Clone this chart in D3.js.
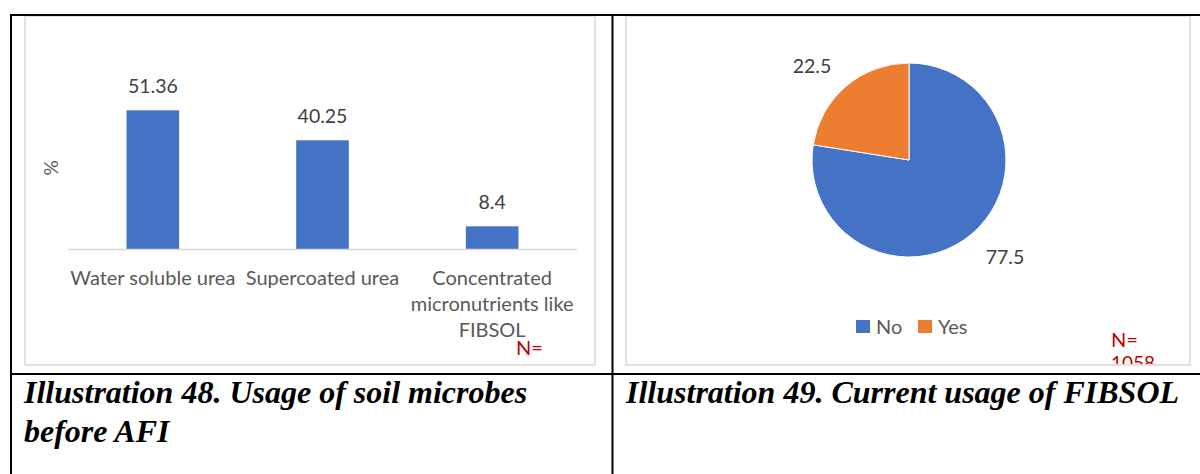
<!DOCTYPE html>
<html>
<head>
<meta charset="utf-8">
<script src="https://cdn.jsdelivr.net/npm/d3@7"></script>
<style>
  body { margin: 0; background: #fff; }
  svg { display: block; }
</style>
</head>
<body>
<div id="canvas"></div>
<script>
// data
const barCategories = ["Water soluble urea", "Supercoated urea", "Concentrated micronutrients like FIBSOL"];
const barLabelLines = [["Water soluble urea"], ["Supercoated urea"], ["Concentrated", "micronutrients like", "FIBSOL"]];
const barValues = [51.36, 40.25, 8.4];
const pieCategories = ["No", "Yes"];
const pieValues = [77.5, 22.5];
const captions = [
    ["Illustration 48. Usage of soil microbes", "before AFI"],
    ["Illustration 49. Current usage of FIBSOL"]
];

const W = 1200, H = 474;
const labelFont = "Lato, 'Open Sans', sans-serif";

const svg = d3.select("#canvas").append("svg")
    .attr("width", W)
    .attr("height", H);

// chart boxes
const boxes = [
    { x: 25, y: 16, w: 570, h: 349 },
    { x: 626, y: 16, w: 564, h: 349 }
];
boxes.forEach(b => {
    svg.append("rect")
        .attr("x", b.x).attr("y", b.y)
        .attr("width", b.w).attr("height", b.h)
        .attr("fill", "#fff")
        .attr("stroke", "#d9d9d9")
        .attr("stroke-width", 1.5);
});

// ---- bar chart ----
const bar = { left: 68, right: 577, top: 87, bottom: 249 };

const x = d3.scaleBand()
    .domain(barCategories)
    .range([bar.left, bar.right])
    .paddingInner(0.69)
    .paddingOuter(0.345);

const y = d3.scaleLinear()
    .domain([0, 60])
    .range([bar.bottom, bar.top]);

const barG = svg.append("g");

barG.selectAll("rect.bar")
    .data(barValues)
    .enter()
    .append("rect")
    .attr("class", "bar")
    .attr("x", (d, i) => x(barCategories[i]))
    .attr("y", d => y(d))
    .attr("width", x.bandwidth())
    .attr("height", d => y(0) - y(d))
    .attr("fill", "#4472c4");

barG.append("line")
    .attr("x1", bar.left).attr("x2", bar.right)
    .attr("y1", y(0) + 0.5).attr("y2", y(0) + 0.5)
    .attr("stroke", "#d9d9d9")
    .attr("stroke-width", 1.5);

barG.selectAll("text.val")
    .data(barValues)
    .enter()
    .append("text")
    .attr("class", "val")
    .attr("x", (d, i) => x(barCategories[i]) + x.bandwidth() / 2)
    .attr("y", d => y(d) - 17)
    .attr("text-anchor", "middle")
    .attr("fill", "#404040")
    .style("font-family", labelFont)
    .style("font-size", "19.5px")
    .text(d => d);

barCategories.forEach((c, i) => {
    const t = barG.append("text")
        .attr("x", x(c) + x.bandwidth() / 2)
        .attr("y", 285)
        .attr("text-anchor", "middle")
        .attr("fill", "#595959")
        .style("font-family", labelFont)
        .style("font-size", "20px");
    barLabelLines[i].forEach((line, j) => {
        t.append("tspan")
            .attr("x", x(c) + x.bandwidth() / 2)
            .attr("dy", j === 0 ? 0 : 26)
            .text(line);
    });
});

barG.append("text")
    .attr("transform", "translate(58,168) rotate(-90)")
    .attr("text-anchor", "middle")
    .attr("fill", "#595959")
    .style("font-family", labelFont)
    .style("font-size", "19px")
    .text("%");

barG.append("text")
    .attr("x", 516).attr("y", 355)
    .attr("fill", "#c00000")
    .style("font-family", labelFont)
    .style("font-size", "20px")
    .text("N=");

// ---- pie chart ----
const pieColor = d3.scaleOrdinal()
    .domain(pieCategories)
    .range(["#4472c4", "#ed7d31"]);

const cx = 909, cy = 160, r = 97;
const pie = d3.pie().sort(null).value(d => d)(pieValues);
const arc = d3.arc().innerRadius(0).outerRadius(r);

const pieG = svg.append("g").attr("transform", `translate(${cx},${cy})`);

pieG.selectAll("path")
    .data(pie)
    .enter()
    .append("path")
    .attr("d", arc)
    .attr("fill", (d, i) => pieColor(pieCategories[i]))
    .attr("stroke", "#fff")
    .attr("stroke-width", 1);

// outside labels
const labelPos = [[96, 104], [-97, -87]];
pieG.selectAll("text.pl")
    .data(pie)
    .enter()
    .append("text")
    .attr("class", "pl")
    .attr("x", (d, i) => labelPos[i][0])
    .attr("y", (d, i) => labelPos[i][1])
    .attr("text-anchor", "middle")
    .attr("fill", "#404040")
    .style("font-family", labelFont)
    .style("font-size", "19.5px")
    .text(d => d.data);

// legend
const legend = svg.append("g").attr("transform", "translate(856,320)");
const legendX = [0, 62];
pieCategories.forEach((c, i) => {
    const g = legend.append("g").attr("transform", `translate(${legendX[i]},0)`);
    g.append("rect")
        .attr("width", 14).attr("height", 13)
        .attr("fill", pieColor(c));
    g.append("text")
        .attr("x", 20).attr("y", 14)
        .attr("fill", "#595959")
        .style("font-family", labelFont)
        .style("font-size", "20px")
        .text(c);
});

// N= 1058 clipped by box bottom
svg.append("clipPath").attr("id", "clipN")
    .append("rect").attr("x", 626).attr("y", 16).attr("width", 564).attr("height", 348);
const nG = svg.append("g").attr("clip-path", "url(#clipN)");
nG.append("text")
    .attr("x", 1111).attr("y", 347)
    .attr("fill", "#c00000")
    .style("font-family", labelFont)
    .style("font-size", "20px")
    .text("N=");
nG.append("text")
    .attr("x", 1111).attr("y", 370)
    .attr("fill", "#c00000")
    .style("font-family", labelFont)
    .style("font-size", "19px")
    .text("1058");

// ---- table lines ----
const tableLine = (x1, y1, x2, y2) => svg.append("line")
    .attr("x1", x1).attr("y1", y1).attr("x2", x2).attr("y2", y2)
    .attr("stroke", "#000")
    .attr("stroke-width", 2);

tableLine(10, 15, 1200, 15);
tableLine(10, 374, 1200, 374);
tableLine(11, 14, 11, 474);
tableLine(612.5, 14, 612.5, 474);

// captions
const capX = [24, 626];
captions.forEach((lines, i) => {
    lines.forEach((line, j) => {
        svg.append("text")
            .attr("x", capX[i])
            .attr("y", 403 + j * 39)
            .attr("fill", "#000")
            .style("font-family", "'Liberation Serif', 'Times New Roman', serif")
            .style("font-weight", "bold")
            .style("font-style", "italic")
            .style("font-size", "32px")
            .text(line);
    });
});
</script>
</body>
</html>
